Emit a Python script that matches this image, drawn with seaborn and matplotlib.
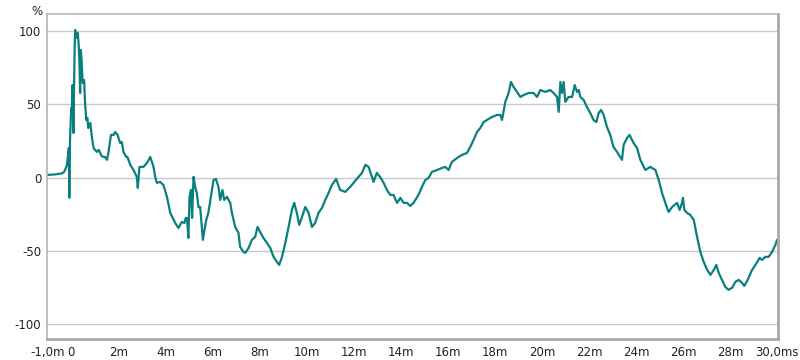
import numpy as np
import pandas as pd
import matplotlib
matplotlib.use("Agg")
import matplotlib.pyplot as plt
import seaborn as sns

time_ms = [-1.03, -0.69, -0.40, -0.31, -0.20, -0.14, -0.11, -0.09, -0.06, -0.01, 0.02, 0.05, 0.09, 0.11,
           0.14, 0.16, 0.19, 0.23, 0.27, 0.31, 0.34, 0.37, 0.40, 0.43, 0.45, 0.48, 0.54, 0.58, 0.63, 0.68,
           0.71, 0.75, 0.80, 0.87, 0.94, 1.01, 1.08, 1.16, 1.22, 1.28, 1.36, 1.43, 1.51, 1.57, 1.68, 1.79,
           1.86, 1.96, 2.03, 2.07, 2.14, 2.21, 2.33, 2.38, 2.50, 2.64, 2.78, 2.82, 2.89, 3.06, 3.21, 3.35,
           3.49, 3.56, 3.63, 3.77, 3.91, 4.06, 4.20, 4.41, 4.55, 4.69, 4.80, 4.86, 4.91, 4.97, 5.02, 5.08,
           5.13, 5.19, 5.26, 5.33, 5.40, 5.47, 5.59, 5.64, 5.73, 5.82, 5.97, 6.04, 6.14, 6.25, 6.32, 6.42,
           6.49, 6.61, 6.75, 6.82, 6.96, 7.10, 7.17, 7.31, 7.39, 7.53, 7.67, 7.81, 7.91, 8.02, 8.16, 8.31,
           8.45, 8.59, 8.73, 8.83, 8.95, 9.09, 9.23, 9.37, 9.47, 9.58, 9.68, 9.80, 9.94, 10.08, 10.22,
           10.36, 10.50, 10.65, 10.79, 10.93, 11.07, 11.25, 11.42, 11.64, 11.85, 11.99, 12.20, 12.35,
           12.49, 12.63, 12.77, 12.84, 12.98, 13.12, 13.27, 13.41, 13.55, 13.69, 13.84, 13.98, 14.12,
           14.26, 14.40, 14.54, 14.75, 14.90, 15.04, 15.18, 15.32, 15.54, 15.75, 15.89, 16.03, 16.17,
           16.39, 16.60, 16.81, 16.95, 17.09, 17.24, 17.38, 17.52, 17.66, 17.87, 18.09, 18.23, 18.30,
           18.44, 18.58, 18.68, 18.79, 18.94, 19.08, 19.22, 19.43, 19.64, 19.79, 19.93, 20.14, 20.35,
           20.49, 20.64, 20.71, 20.78, 20.85, 20.92, 20.99, 21.13, 21.28, 21.39, 21.49, 21.56, 21.63,
           21.77, 21.91, 22.05, 22.19, 22.31, 22.41, 22.51, 22.62, 22.76, 22.90, 23.04, 23.19, 23.40,
           23.47, 23.61, 23.72, 23.89, 24.04, 24.18, 24.39, 24.60, 24.82, 24.96, 25.10, 25.24, 25.38,
           25.53, 25.74, 25.85, 25.95, 25.99, 26.05, 26.16, 26.30, 26.45, 26.59, 26.73, 26.87, 27.02,
           27.16, 27.30, 27.41, 27.51, 27.65, 27.79, 27.93, 28.08, 28.22, 28.36, 28.50, 28.60, 28.74,
           28.93, 29.07, 29.25, 29.35, 29.49, 29.63, 29.78, 29.92, 29.99]

percent = [1.8, 2.2, 2.9, 3.9, 8.0, 15.5, 20.2, -13.8, 25.7, 47.5, 46.1, 63.1, 30.4, 59.7,
           90.4, 100.6, 95.2, 97.2, 98.6, 90.4, 78.1, 57.7, 87.0, 80.2, 73.3, 64.5, 66.6, 50.9, 39.3, 40.7,
           33.9, 34.5, 37.3, 27.7, 20.2, 18.9, 17.5, 18.9, 16.8, 14.8, 14.1, 14.1, 12.1, 16.8, 29.1, 29.1,
           31.1, 29.1, 25.7, 23.6, 24.3, 17.5, 14.1, 14.1, 8.7, 5.2, 0.5, -7.0, 7.3, 7.3, 10.0, 14.1,
           7.3, 0.5, -3.6, -2.9, -5.0, -13.1, -24.0, -30.9, -34.3, -30.2, -30.9, -27.5, -27.5, -41.1, -13.1, -8.4,
           -27.5, 0.5, -6.3, -10.6, -20.2, -20.0, -42.4, -37.0, -28.8, -24.0, -8.4, -1.6, -0.9, -6.3, -15.2, -8.4,
           -15.2, -13.1, -17.2, -24.0, -33.6, -37.7, -47.2, -50.6, -51.3, -47.9, -42.4, -40.4, -33.6, -37.0, -41.1, -44.5,
           -47.9, -54.0, -57.4, -59.5, -54.0, -44.5, -33.6, -22.0, -17.2, -24.0, -32.2, -26.8, -20.0, -24.0, -33.6,
           -30.9, -24.0, -20.6, -15.2, -10.4, -5.0, -0.9, -8.4, -9.7, -6.3, -3.6, 0.5, 3.2,
           8.7, 7.3, 0.5, -2.9, 3.2, 0.5, -3.6, -8.4, -11.8, -11.8, -17.2, -13.8, -17.2,
           -17.2, -19.3, -17.2, -11.8, -6.3, -1.6, -0.2, 3.9, 5.2, 6.6, 7.3, 5.2, 10.7,
           13.4, 15.5, 16.8, 20.9, 25.7, 31.1, 33.9, 37.9, 39.3, 41.3, 42.7, 42.7, 39.3,
           51.6, 57.7, 65.2, 61.8, 58.4, 55.0, 56.3, 57.7, 57.7, 55.0, 59.7, 58.4, 59.7,
           57.7, 55.0, 44.8, 65.2, 57.7, 65.2, 51.6, 55.0, 55.0, 63.1, 58.4, 59.7, 55.0,
           52.9, 48.2, 44.1, 39.3, 37.9, 44.1, 46.1, 42.7, 34.5, 29.1, 20.9, 17.5, 12.1,
           22.3, 27.0, 29.1, 23.6, 20.2, 12.1, 5.2, 7.3, 5.2, -1.6, -10.4, -17.2, -23.4,
           -20.0, -17.2, -22.0, -17.2, -13.8, -22.0, -24.0, -25.4, -28.8, -40.4, -50.6, -57.4, -62.9,
           -66.3, -62.9, -59.5, -64.9, -69.7, -74.5, -76.5, -75.1, -71.0, -69.7, -71.7, -73.8, -69.7,
           -62.9, -59.5, -54.7, -56.1, -54.0, -54.0, -50.6, -45.8, -42.4]

x_tick_values = [-1, 0, 2, 4, 6, 8, 10, 12, 14, 16, 18, 20, 22, 24, 26, 28, 30]
x_tick_labels = ["-1,0m", "0", "2m", "4m", "6m", "8m", "10m", "12m", "14m", "16m", "18m",
                 "20m", "22m", "24m", "26m", "28m", "30,0ms"]
x_grid_values = [0, 2, 4, 6, 8, 10, 12, 14, 16, 18, 20, 22, 24, 26, 28]
y_tick_values = [-100, -50, 0, 50, 100]
y_tick_labels = ["-100", "-50", "0", "50", "100"]

df = pd.DataFrame({"t": time_ms, "p": percent})

sns.set_style("white")
plt.rcParams['font.family'] = ['DejaVu Sans']

fig = plt.figure(figsize=(8, 3.6), dpi=100)
ax = fig.add_axes([0.0584, 0.0583, 0.9141, 0.9027])

sns.lineplot(data=df, x="t", y="p", ax=ax, color="#0a7f7f", linewidth=1.6, sort=False,
             estimator=None)

ax.set_xlim(-1.05, 30.03)
ax.set_ylim(-110, 111.5)

ax.set_xticks(x_tick_values)
ax.set_xticklabels(x_tick_labels)
ax.set_xticks(x_grid_values, minor=True)
ax.set_yticks(y_tick_values)
ax.set_yticklabels(y_tick_labels)

ax.grid(False)
ax.grid(True, which="minor", axis="x", color="#c8c8c8", linewidth=1.0)
ax.grid(True, which="major", axis="y", color="#c8c8c8", linewidth=1.0)
ax.set_axisbelow(True)

ax.tick_params(axis="both", which="both", length=0, labelsize=8.5, colors="#222222")
ax.tick_params(axis="x", pad=5)
ax.tick_params(axis="y", pad=4)

for s in ax.spines.values():
    s.set_color("#b4b4b4")
    s.set_linewidth(1.2)
ax.spines["right"].set_color("#a8a8a8")
ax.spines["bottom"].set_color("#a8a8a8")
ax.spines["right"].set_linewidth(2.0)
ax.spines["bottom"].set_linewidth(2.0)

ax.set_xlabel("")
ax.set_ylabel("")
fig.text(0.046, 0.985, "%", ha="center", va="top", fontsize=8.5, color="#222222")

fig.savefig("out.png", dpi=100, facecolor="white")
